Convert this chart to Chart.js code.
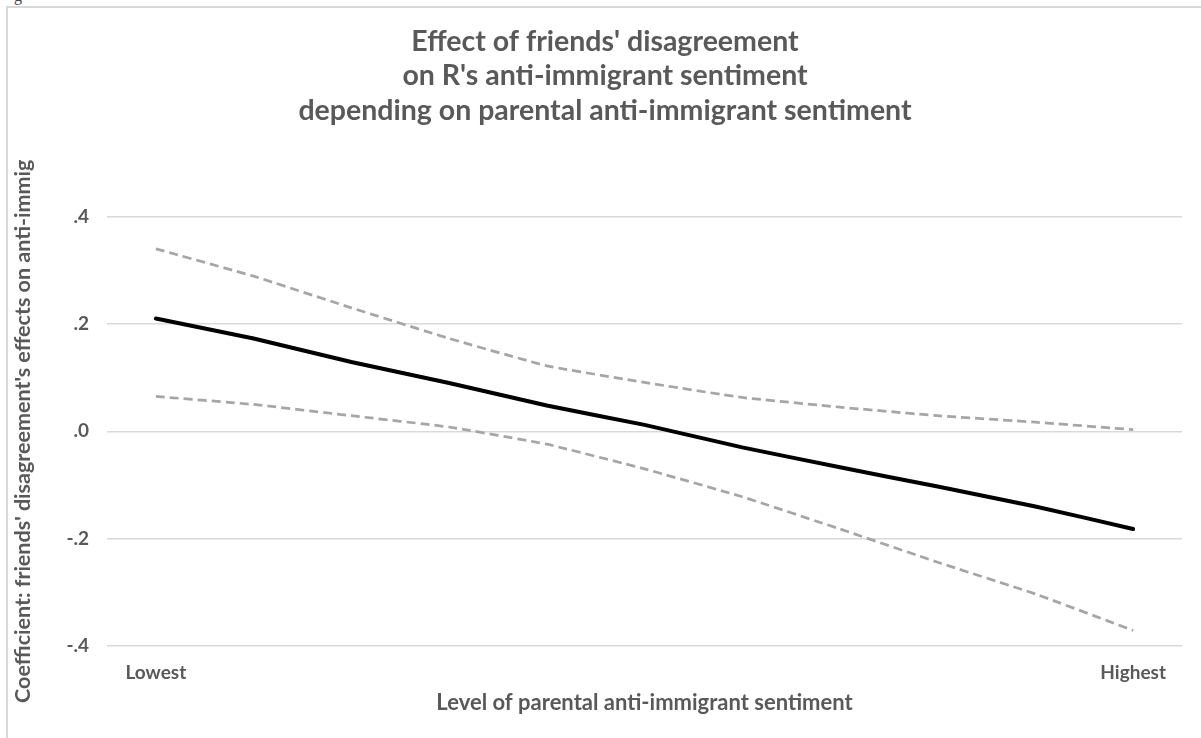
<!DOCTYPE html>
<html>
<head>
<meta charset="utf-8">
<script src="https://cdn.jsdelivr.net/npm/chart.js@4/dist/chart.umd.min.js"></script>
<style>
  html, body { margin: 0; padding: 0; background: #fff; }
  #wrap { position: relative; width: 1201px; height: 738px; overflow: hidden; }
  #frame { position: absolute; left: 6px; top: 6px; right: -10px; bottom: -10px;
           border-left: 2px solid #d9d9d9; border-top: 2px solid #d9d9d9; }
  #cut { position: absolute; left: 14px; top: -13px; font: 16px "Liberation Serif", serif; color: #444; }
  canvas { position: absolute; left: 0; top: 0; }
</style>
</head>
<body>
<div id="wrap">
  <div id="frame"></div>
  <span id="cut">g</span>
  <canvas id="c" width="1201" height="738"></canvas>
</div>
<script>
// ---- data ----
const categories = ["Lowest", "", "", "", "", "", "", "", "", "", "Highest"];
const coefficient = [0.21, 0.173, 0.129, 0.090, 0.048, 0.012, -0.030, -0.067, -0.103, -0.140, -0.182];
const upperBound  = [0.34, 0.289, 0.230, 0.173, 0.122, 0.091, 0.063, 0.045, 0.029, 0.017, 0.003];
const lowerBound  = [0.065, 0.050, 0.029, 0.008, -0.024, -0.070, -0.122, -0.182, -0.244, -0.303, -0.371];
const yTickValues = [-0.4, -0.2, 0.0, 0.2, 0.4];
const yTickLabels = ["-.4", "-.2", ".0", ".2", ".4"];
const titleLines = [
  "Effect of friends' disagreement",
  "on R's anti-immigrant sentiment",
  "depending on parental anti-immigrant sentiment"
];
const yTitle = "Coefficient: friends' disagreement's effects on anti-immig";
const xTitle = "Level of parental anti-immigrant sentiment";

const TEXT = "#595959";
const FONT = "Lato, 'Open Sans', sans-serif";

// shift the title block slightly right so it centres where the reference title does
const titleShift = {
  id: "titleShift",
  afterLayout(chart) {
    if (chart.titleBlock) { chart.titleBlock.left += 22; }
  }
};

new Chart(document.getElementById("c"), {
  type: "line",
  plugins: [titleShift],
  data: {
    labels: categories,
    datasets: [
      { label: "upper", data: upperBound, borderColor: "#a6a6a6", borderWidth: 2.75,
        borderDash: [9, 5], pointRadius: 0, tension: 0.1, fill: false },
      { label: "lower", data: lowerBound, borderColor: "#a6a6a6", borderWidth: 2.75,
        borderDash: [9, 5], pointRadius: 0, tension: 0.1, fill: false },
      { label: "coefficient", data: coefficient, borderColor: "#000000", borderWidth: 4,
        pointRadius: 0, tension: 0.1, fill: false, borderCapStyle: "round" }
    ]
  },
  options: {
    responsive: false,
    animation: false,
    devicePixelRatio: 1,
    layout: { padding: { left: 6, right: 19, top: 0, bottom: 18 } },
    plugins: {
      legend: { display: false },
      tooltip: { enabled: false },
      title: {
        display: true,
        text: titleLines,
        color: TEXT,
        font: { family: FONT, size: 28.5, weight: "bold", lineHeight: 1.2 },
        padding: { top: 25, bottom: 89 }
      }
    },
    scales: {
      x: {
        type: "category",
        offset: true,
        grid: { display: false, drawTicks: false },
        border: { display: false },
        ticks: { autoSkip: false, maxRotation: 0, color: TEXT, padding: 15,
                 font: { family: FONT, size: 19, weight: "bold" } },
        title: { display: true, text: xTitle, color: TEXT, padding: { top: 4, bottom: 4 },
                 font: { family: FONT, size: 22, weight: "bold" } },
        afterFit: s => { s.height = 74; }
      },
      y: {
        min: -0.4, max: 0.4,
        afterBuildTicks: s => { s.ticks = yTickValues.map(v => ({ value: v })); },
        grid: { color: "#d9d9d9", lineWidth: 1.5, drawTicks: false },
        border: { display: false },
        ticks: {
          color: TEXT, padding: 18,
          font: { family: FONT, size: 19, weight: "bold" },
          callback: v => { const i = yTickValues.findIndex(t => Math.abs(t - v) < 1e-9); return i >= 0 ? yTickLabels[i] : ""; }
        },
        title: { display: true, text: yTitle, color: TEXT, padding: { top: 4, bottom: 4 },
                 font: { family: FONT, size: 21.5, weight: "bold" } },
        afterFit: s => { s.width = 101; }
      }
    }
  }
});
</script>
</body>
</html>
